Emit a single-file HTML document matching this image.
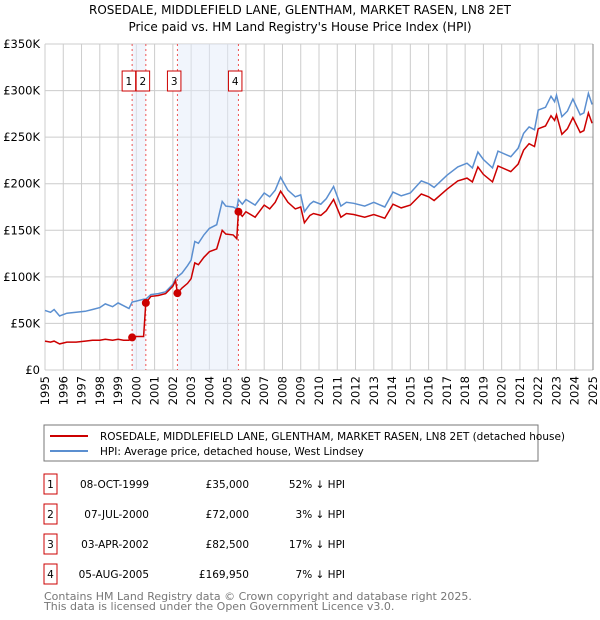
<!DOCTYPE html>
<html><head><meta charset="utf-8"><style>
body{margin:0;background:#fff;}
svg{display:block;font-family:"DejaVu Sans","Liberation Sans",sans-serif;}
</style></head><body>
<svg id="c" width="600" height="620" viewBox="0 0 600 620">
<text x="300" y="14" text-anchor="middle" font-size="12">ROSEDALE, MIDDLEFIELD LANE, GLENTHAM, MARKET RASEN, LN8 2ET</text>
<text x="300" y="31" text-anchor="middle" font-size="12">Price paid vs. HM Land Registry's House Price Index (HPI)</text>
<g id="grid"></g><g id="shade"></g><g id="series"></g><g id="axes"></g>
<rect x="44" y="425" width="494" height="36" fill="#fff" stroke="#777"/>
<line x1="50" y1="436" x2="88" y2="436" stroke="#cc0000" stroke-width="2"/>
<text x="100" y="440" font-size="10.5">ROSEDALE, MIDDLEFIELD LANE, GLENTHAM, MARKET RASEN, LN8 2ET (detached house)</text>
<line x1="50" y1="451" x2="88" y2="451" stroke="#5b8fd0" stroke-width="2"/>
<text x="100" y="455" font-size="10.5">HPI: Average price, detached house, West Lindsey</text>
<g id="table" font-size="10.5"></g>
<text x="44" y="600" font-size="11" fill="#777">Contains HM Land Registry data © Crown copyright and database right 2025.</text>
<text x="44" y="610" font-size="11" fill="#777">This data is licensed under the Open Government Licence v3.0.</text>
</svg>
<script>
const dates=[1995.0,1995.3,1995.5,1995.8,1996.2,1996.7,1997.2,1997.6,1998.0,1998.3,1998.7,1999.0,1999.3,1999.6,1999.77,2000.0,2000.4,2000.52,2000.8,2001.2,2001.6,2002.0,2002.15,2002.25,2002.5,2002.8,2003.0,2003.2,2003.4,2003.7,2004.0,2004.4,2004.7,2004.9,2005.3,2005.5,2005.59,2005.8,2006.0,2006.5,2007.0,2007.3,2007.6,2007.9,2008.3,2008.7,2009.0,2009.2,2009.5,2009.7,2010.1,2010.4,2010.8,2011.2,2011.5,2011.9,2012.5,2013.0,2013.6,2014.05,2014.5,2015.0,2015.6,2016.0,2016.3,2017.0,2017.6,2018.1,2018.4,2018.7,2019.0,2019.5,2019.8,2020.5,2020.9,2021.2,2021.5,2021.8,2022.0,2022.4,2022.7,2022.9,2023.0,2023.3,2023.6,2023.9,2024.3,2024.5,2024.75,2024.95];
const hpiValues=[64,62,65,58,61,62,63,65,67,71,68,72,69,66,73,74,76,76,81,82,84,92,98,100,104,112,118,138,136,145,152,156,181,176,175,173,183,178,183,177,190,186,193,207,193,186,188,170,178,181,178,184,197,176,180,179,176,180,175,191,187,190,203,200,196,209,218,222,217,234,226,217,235,229,238,254,261,258,279,282,294,288,295,272,278,291,274,276,297,285];
const propertyValues=[31,30,31,28,30,30,31,32,32,33,32,33,32,32,35,36,36,72,79,80,82,90,96,82.5,88,93,98,115,113,121,127,130,150,146,145,141,170,165,170,164,177,173,180,192,180,173,175,158,166,168,166,171,183,164,168,167,164,167,163,178,174,177,189,186,182,194,203,206,202,218,210,202,219,213,221,236,243,240,259,262,273,268,274,253,259,271,255,257,276,265];
const saleDates=[1999.77,2000.52,2002.25,2005.59];
const salePrices=[35,72,82.5,169.95];
const saleLabels=["1","2","3","4"];
const saleDateText=["08-OCT-1999","07-JUL-2000","03-APR-2002","05-AUG-2005"];
const salePriceText=["£35,000","£72,000","£82,500","£169,950"];
const salePctText=["52% ↓ HPI","3% ↓ HPI","17% ↓ HPI","7% ↓ HPI"];
const yTicks=[0,50,100,150,200,250,300,350];
const yTickLabels=["£0","£50K","£100K","£150K","£200K","£250K","£300K","£350K"];
const xYears=[1995,1996,1997,1998,1999,2000,2001,2002,2003,2004,2005,2006,2007,2008,2009,2010,2011,2012,2013,2014,2015,2016,2017,2018,2019,2020,2021,2022,2023,2024,2025];

const X0=45,X1=593,Y0=370,Y1=44;
const sx=v=>X0+(v-1995)/30*(X1-X0);
const sy=v=>Y0-v/350*(Y0-Y1);
const NS="http://www.w3.org/2000/svg";
function mk(parent,tag,attrs){const e=document.createElementNS(NS,tag);for(const k in attrs)e.setAttribute(k,attrs[k]);parent.appendChild(e);return e;}
const grid=document.getElementById('grid'),shade=document.getElementById('shade'),series=document.getElementById('series'),axes=document.getElementById('axes'),table=document.getElementById('table');

yTicks.forEach((t,i)=>{
  const l=mk(grid,'line',{x1:X0,x2:X1,y1:sy(t),y2:sy(t),stroke:'#cccccc'});
  
  
  const tx=mk(axes,'text',{x:X0-5,y:sy(t)+4,'text-anchor':'end','font-size':'11.5'});
  tx.textContent=yTickLabels[i];
  
  
});
xYears.forEach(y=>{
  const l=mk(grid,'line',{x1:sx(y),x2:sx(y),y1:Y1,y2:Y0,stroke:'#cccccc'});
  
  
  const tx=mk(axes,'text',{x:0,y:0,'text-anchor':'end','font-size':'11.5',transform:`translate(${sx(y)+4},${Y0+6}) rotate(-90)`});
  tx.textContent=y;
  
  
});
[[0,1],[2,3]].forEach(p=>{
  const r=mk(shade,'rect',{x:sx(saleDates[p[0]]),y:Y1,width:sx(saleDates[p[1]])-sx(saleDates[p[0]]),height:Y0-Y1,fill:'#e4ecfa','fill-opacity':0.5});
  
  
});
saleDates.forEach((d,i)=>{
  const l=mk(shade,'line',{x1:sx(d),x2:sx(d),y1:Y1,y2:Y0,stroke:'#ee5555','stroke-dasharray':'2,3'});
  
  
});
const pts=a=>dates.map((d,i)=>sx(d).toFixed(1)+','+sy(a[i]).toFixed(1)).join(' ');
const hp=mk(series,'polyline',{points:pts(hpiValues),fill:'none',stroke:'#5b8fd0','stroke-width':1.5});


const pp=mk(series,'polyline',{points:pts(propertyValues),fill:'none',stroke:'#cc0000','stroke-width':1.5});


saleDates.forEach((d,i)=>{
  const c=mk(series,'circle',{cx:sx(d),cy:sy(salePrices[i]),r:4,fill:'#cc0000'});
  
  
  const lx=i===1?sx(saleDates[0])-10+14:sx(d)-10;
  const g=mk(series,'g',{});
  
  
  mk(g,'rect',{x:lx,y:71,width:13.5,height:20,fill:'#fff',stroke:'#cc0000'});
  const t=mk(g,'text',{x:lx+6.75,y:85,'text-anchor':'middle','font-size':'10.5'});
  t.textContent=saleLabels[i];
});
mk(axes,'line',{x1:X1,x2:X1,y1:Y1,y2:Y0,stroke:'#888'});
const rows=[482,512,542,572];
saleLabels.forEach((s,i)=>{
  const g=mk(table,'g',{});
  
  
  mk(g,'rect',{x:44,y:rows[i]-8,width:13,height:20,fill:'#fff',stroke:'#cc0000'});
  const a=mk(g,'text',{x:50.5,y:rows[i]+6,'text-anchor':'middle'});a.textContent=s;
  const b=mk(g,'text',{x:149,y:rows[i]+6,'text-anchor':'end'});b.textContent=saleDateText[i];
  const c=mk(g,'text',{x:249,y:rows[i]+6,'text-anchor':'end'});c.textContent=salePriceText[i];
  const e=mk(g,'text',{x:345,y:rows[i]+6,'text-anchor':'end'});e.textContent=salePctText[i];
});
</script>
</body></html>
